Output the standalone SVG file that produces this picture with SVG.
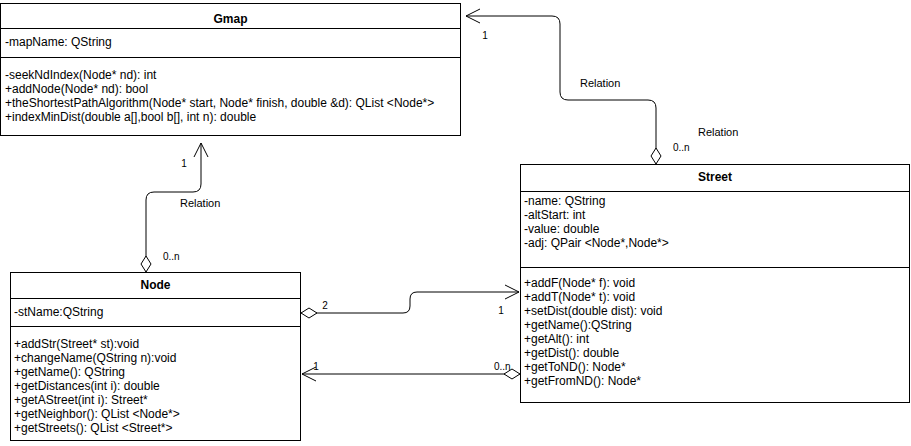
<svg xmlns="http://www.w3.org/2000/svg" width="911" height="446" viewBox="0 0 911 446">
<style>
.box{fill:#fff;stroke:#000;stroke-width:1}
.sep{stroke:#000;stroke-width:1}
.t{font-family:"Liberation Sans",Arial,sans-serif;font-size:12px;fill:#000}
.ti{font-family:"Liberation Sans",Arial,sans-serif;font-size:12px;font-weight:bold;fill:#000;text-anchor:middle}
.lbl{font-family:"Liberation Sans",Arial,sans-serif;font-size:11px;fill:#000}
.m{font-family:"Liberation Sans",Arial,sans-serif;font-size:10px;fill:#000}
.edge{fill:none;stroke:#000;stroke-width:1;marker-start:url(#dia);marker-end:url(#arr)}
</style>
<defs>
<marker id="dia" markerUnits="userSpaceOnUse" orient="auto" refX="0" refY="0" markerWidth="20" markerHeight="14" viewBox="-2 -7 20 14" overflow="visible">
<path d="M0,0 L8,-5 L16,0 L8,5 Z" fill="#fff" stroke="#000" stroke-width="1"/>
</marker>
<marker id="arr" markerUnits="userSpaceOnUse" orient="auto" refX="0" refY="0" markerWidth="18" markerHeight="18" viewBox="-16 -9 18 18" overflow="visible">
<path d="M-14,-7 L0,0 L-14,7" fill="none" stroke="#000" stroke-width="1"/>
</marker>
</defs>
<g id="connectors">
<path class="edge" d="M146,272 L146,200 Q146,192 154,192 L193,192 Q201,192 201,184 L201,143"/>
<path class="edge" d="M656,164 L656,108 Q656,100 648,100 L568,100 Q560,100 560,92 L560,24 Q560,16 552,16 L466,16"/>
<path class="edge" d="M301,313 L403,313 Q410,313 410,306 L410,299 Q410,292 417,292 L519,292"/>
<path class="edge" d="M520,374 L302,374"/>
<text class="m" x="184" y="167" text-anchor="middle">1</text>
<text class="lbl" x="180" y="207">Relation</text>
<text class="m" x="163" y="260">0..n</text>
<text class="m" x="485" y="39" text-anchor="middle">1</text>
<text class="lbl" x="580" y="87">Relation</text>
<text class="lbl" x="698" y="136">Relation</text>
<text class="m" x="673" y="151">0..n</text>
<text class="m" x="325" y="309" text-anchor="middle">2</text>
<text class="m" x="501" y="314" text-anchor="middle">1</text>
<text class="m" x="316" y="370" text-anchor="middle">1</text>
<text class="m" x="494" y="370">0..n</text>
</g>
<g id="gmap">
<rect class="box" x="0.5" y="3.5" width="460" height="132"/>
<line class="sep" x1="0.5" y1="28.5" x2="460.5" y2="28.5"/>
<line class="sep" x1="0.5" y1="57.5" x2="460.5" y2="57.5"/>
<text class="ti" x="230.5" y="23">Gmap</text>
<text class="t" x="5" y="46">-mapName: QString</text>
<text class="t" x="5" y="79">-seekNdIndex(Node* nd): int</text>
<text class="t" x="5" y="93">+addNode(Node* nd): bool</text>
<text class="t" x="5" y="107">+theShortestPathAlgorithm(Node* start, Node* finish, double &amp;d): QList &lt;Node*&gt;</text>
<text class="t" x="5" y="121">+indexMinDist(double a[],bool b[], int n): double</text>
</g>
<g id="node">
<rect class="box" x="10.5" y="272.5" width="290" height="168"/>
<line class="sep" x1="10.5" y1="298.5" x2="300.5" y2="298.5"/>
<line class="sep" x1="10.5" y1="326.5" x2="300.5" y2="326.5"/>
<text class="ti" x="155.5" y="289">Node</text>
<text class="t" x="14" y="316">-stName:QString</text>
<text class="t" x="14" y="348">+addStr(Street* st):void</text>
<text class="t" x="14" y="362">+changeName(QString n):void</text>
<text class="t" x="14" y="376">+getName(): QString</text>
<text class="t" x="14" y="390">+getDistances(int i): double</text>
<text class="t" x="14" y="404">+getAStreet(int i): Street*</text>
<text class="t" x="14" y="418">+getNeighbor(): QList &lt;Node*&gt;</text>
<text class="t" x="14" y="432">+getStreets(): QList &lt;Street*&gt;</text>
</g>
<g id="street">
<rect class="box" x="520.5" y="164.5" width="389" height="238"/>
<line class="sep" x1="520.5" y1="191.5" x2="909.5" y2="191.5"/>
<line class="sep" x1="520.5" y1="267.5" x2="909.5" y2="267.5"/>
<text class="ti" x="715" y="181">Street</text>
<text class="t" x="524" y="205">-name: QString</text>
<text class="t" x="524" y="219">-altStart: int</text>
<text class="t" x="524" y="233">-value: double</text>
<text class="t" x="524" y="247">-adj: QPair &lt;Node*,Node*&gt;</text>
<text class="t" x="524" y="287">+addF(Node* f): void</text>
<text class="t" x="524" y="301">+addT(Node* t): void</text>
<text class="t" x="524" y="315">+setDist(double dist): void</text>
<text class="t" x="524" y="329">+getName():QString</text>
<text class="t" x="524" y="343">+getAlt(): int</text>
<text class="t" x="524" y="357">+getDist(): double</text>
<text class="t" x="524" y="371">+getToND(): Node*</text>
<text class="t" x="524" y="385">+getFromND(): Node*</text>
</g>
</svg>
